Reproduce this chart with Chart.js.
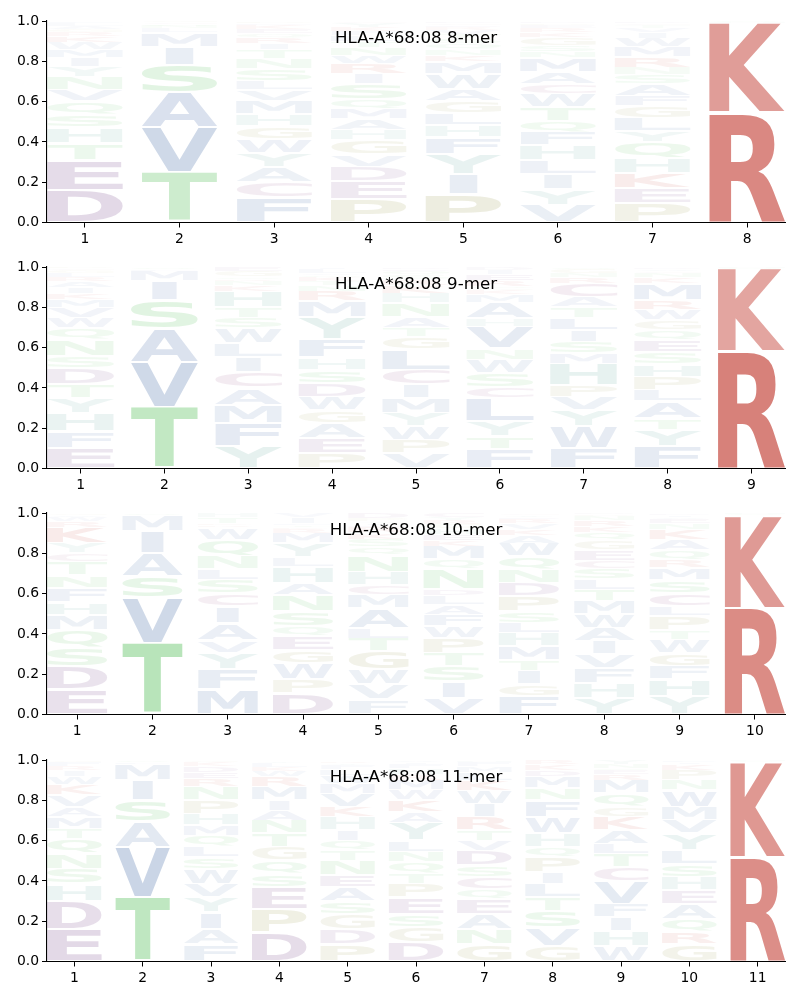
<!DOCTYPE html>
<html>
<head>
<meta charset="utf-8">
<script src="https://cdn.jsdelivr.net/npm/chart.js@4.4.1/dist/chart.umd.min.js"></script>
<style>
  body { margin: 0; background: #fff; }
  canvas { position: absolute; left: 0; }
</style>
</head>
<body>
<canvas id="logo8" width="800" height="246" style="top:0px"></canvas>
<canvas id="logo9" width="800" height="246" style="top:246px"></canvas>
<canvas id="logo10" width="800" height="246" style="top:492px"></canvas>
<canvas id="logo11" width="800" height="246" style="top:739px"></canvas>
<script>
// Datos: cada columna apila letras de abajo hacia arriba
const allele = 'HLA-A*68:08';
const merLengths = [8, 9, 10, 11];
const yTicks = [0, 0.2, 0.4, 0.6, 0.8, 1.0];

const letters8 = ['DETHSQVNYIMWKRGALF', 'TVASIMLNQCG', 'FCAYWGHMVLSNTIRQEKDP', 'PEDVGHAMQSIRWNTLFKYC',
  'PIYFHLGAWMKNQSTVRECD', 'VYILHFQTWCAMNSGKREPD', 'PEKHQYLGFASNRMWIVTCD', 'RKHQ'];
const heights8 = [
  [.16, .15, .085, .078, .063, .065, .058, .066, .05, .045, .04, .035, .03, .02, .015, .015, .015, .01],
  [.25, .225, .17, .137, .09, .07, .02, .012, .01, .008, .008],
  [.124, .076, .074, .071, .07, .063, .06, .065, .055, .045, .06, .05, .045, .03, .03, .02, .02, .02, .01, .01],
  [.115, .088, .075, .06, .07, .05, .055, .05, .05, .075, .05, .05, .04, .04, .03, .03, .02, .02, .02, .01],
  [.138, .1, .1, .085, .06, .06, .06, .06, .075, .06, .03, .03, .03, .025, .02, .02, .015, .01, .01, .01],
  [.088, .075, .075, .07, .075, .065, .057, .067, .066, .05, .06, .07, .03, .03, .04, .025, .02, .015, .01, .01],
  [.096, .074, .075, .075, .08, .055, .065, .06, .05, .06, .045, .035, .05, .05, .045, .03, .02, .015, .01, .01],
  [.545, .445, .005, .005]
];

const letters9 = ['EFHYTDSNQWVMKIARLGCP', 'TVASIMLQ', 'YFMACILWSTHKNRQGE', 'PEAGWDSHFYMRNTKQVLI',
  'VPWYMICLGTANHKRSQED', 'FTYLCSWNVHAMKGQREID', 'FWYVPHMSILTACRNGQ', 'FYTALPHSEQGWRMKNCVD', 'RKQH'];
const heights9 = [
  [.102, .082, .09, .075, .07, .08, .06, .08, .06, .05, .05, .04, .03, .03, .03, .02, .02, .015, .01, .008],
  [.305, .225, .165, .14, .095, .05, .01, .01],
  [.11, .116, .09, .084, .08, .075, .065, .075, .055, .05, .08, .03, .02, .01, .01, .03, .02],
  [.077, .073, .076, .064, .067, .066, .067, .06, .09, .11, .08, .05, .03, .02, .02, .01, .01, .02, .01],
  [.077, .066, .067, .065, .075, .065, .075, .1, .064, .046, .05, .07, .05, .04, .03, .02, .02, .01, .01],
  [.097, .063, .075, .115, .055, .07, .065, .055, .11, .04, .08, .04, .02, .01, .01, .03, .03, .02, .015],
  [.102, .108, .08, .067, .058, .105, .05, .06, .057, .063, .05, .05, .07, .03, .02, .02, .01],
  [.11, .083, .057, .083, .057, .066, .064, .06, .057, .05, .049, .05, .049, .085, .03, .02, .01, .01, .01],
  [.58, .41, .005, .005]
];

const letters10 = ['EDSQMHFNTCYKRWAG', 'TVSAIMQ', 'MFYVAICSLNQWRKTH', 'DPWGEQSNAHLYMRKTFIV', 'FVWGTLAMCHNQSKREIYPD',
  'VISTPWFALDNQMKEHGRYC', 'FGITMHLSPDNQWAKVREYC', 'YHFVIAWMTLSCEGQKRNPD', 'YHFGWTPLCSMRQAKNEVID', 'RKQH'];
const heights10 = [
  [.124, .116, .09, .09, .076, .064, .07, .064, .066, .04, .05, .08, .03, .02, .01, .01],
  [.355, .225, .106, .114, .11, .08, .01],
  [.124, .099, .083, .064, .085, .082, .063, .07, .05, .065, .083, .06, .01, .01, .03, .022],
  [.107, .066, .083, .066, .066, .05, .074, .083, .058, .082, .045, .07, .05, .02, .01, .01, .01, .03, .02],
  [.074, .075, .074, .09, .065, .05, .098, .067, .05, .065, .083, .04, .04, .03, .03, .01, .01, .01, .012, .027],
  [.083, .082, .075, .066, .074, .058, .058, .049, .045, .03, .1, .05, .065, .03, .03, .03, .02, .02, .015, .02],
  [.09, .059, .066, .055, .07, .065, .05, .057, .075, .066, .067, .065, .065, .04, .03, .03, .02, .01, .01, .01],
  [.083, .074, .074, .067, .066, .066, .066, .066, .058, .05, .055, .04, .05, .05, .04, .03, .03, .02, .01, .005],
  [.09, .084, .066, .066, .066, .048, .068, .049, .066, .067, .058, .04, .05, .05, .05, .03, .02, .01, .01, .01],
  [.53, .46, .005, .005]
];

const letters11 = ['EDHSNQTMAVKWIRFG', 'TVASIMLQ', 'FAIYVWSLQMHPNREDKG', 'DPESQGTNAIMRWKLY', 'PDGSAENTQIHKVMWLFYR',
  'DGSEPTQNLYAKWMRHFIV', 'GNAEQCSDVTRIWKLMFH', 'GVSTLIPQHWFNMDKR', 'WHIFVCTLAKGQMRESNY', 'GRQAEHSLYVMWNPKIF', 'RKQH'];
const heights11 = [
  [.16, .14, .085, .075, .075, .075, .05, .058, .049, .06, .05, .04, .03, .02, .02, .01],
  [.32, .248, .125, .107, .1, .08, .01, .01],
  [.086, .075, .083, .076, .065, .075, .058, .05, .058, .05, .058, .066, .067, .04, .03, .03, .02, .01],
  [.145, .115, .11, .065, .065, .068, .067, .065, .05, .05, .066, .05, .03, .02, .02, .01],
  [.086, .074, .076, .064, .069, .058, .073, .05, .05, .05, .067, .05, .066, .05, .04, .03, .02, .01, .01],
  [.095, .075, .066, .084, .065, .05, .06, .05, .055, .09, .05, .06, .05, .05, .03, .03, .02, .01, .01],
  [.086, .074, .076, .074, .05, .06, .057, .073, .05, .05, .067, .066, .066, .05, .04, .03, .02, .01],
  [.078, .092, .082, .068, .065, .058, .075, .05, .067, .083, .083, .058, .058, .03, .03, .02],
  [.078, .075, .067, .066, .114, .068, .067, .05, .065, .068, .05, .066, .066, .03, .02, .01, .02, .02],
  [.086, .059, .065, .076, .066, .068, .065, .065, .085, .066, .066, .083, .05, .05, .03, .01, .01],
  [.518, .472, .005, .005]
];

// Colores por grupo de aminoácido
const groupColors = [
  ['AVILMFW', [44, 87, 156]],
  ['STNQ', [55, 179, 60]],
  ['DE', [91, 31, 113]],
  ['KR', [185, 32, 20]],
  ['HY', [46, 139, 123]],
  ['PG', [132, 132, 41]],
  ['C', [120, 30, 100]]
];

function letterColor(ch, h) {
  const group = groupColors.find(g => g[0].includes(ch));
  const rgb = group ? group[1] : [120, 120, 120];
  const alpha = Math.min(1, 0.015 + 0.95 * h);
  return `rgba(${rgb[0]}, ${rgb[1]}, ${rgb[2]}, ${alpha})`;
}

// Métricas de glifos (tinta real) medidas una vez
const glyphFont = 'bold 200px "DejaVu Sans"';
const glyphCache = {};
function glyphMetrics(ctx, ch) {
  if (!glyphCache[ch]) {
    ctx.save();
    ctx.font = glyphFont;
    ctx.textAlign = 'left';
    ctx.textBaseline = 'alphabetic';
    const m = ctx.measureText(ch);
    glyphCache[ch] = {
      left: m.actualBoundingBoxLeft,
      width: m.actualBoundingBoxLeft + m.actualBoundingBoxRight,
      ascent: m.actualBoundingBoxAscent,
      height: m.actualBoundingBoxAscent + m.actualBoundingBoxDescent
    };
    ctx.restore();
  }
  return glyphCache[ch];
}

function drawGlyph(ctx, ch, x0, x1, y0, y1, color) {
  const m = glyphMetrics(ctx, ch);
  const e = glyphMetrics(ctx, 'E');
  const w = x1 - x0, h = y1 - y0;
  if (h <= 0.2) return;
  // no estirar más que la "E"
  const sx = Math.min(w / m.width, w / e.width);
  const sy = h / m.height;
  const drawnW = m.width * sx;
  ctx.save();
  ctx.translate(x0 + (w - drawnW) / 2, y0);
  ctx.scale(sx, sy);
  ctx.font = glyphFont;
  ctx.textAlign = 'left';
  ctx.textBaseline = 'alphabetic';
  ctx.fillStyle = color;
  ctx.fillText(ch, m.left, m.ascent);
  ctx.restore();
}

const logoPlugin = {
  id: 'logoLetters',
  afterDatasetsDraw(chart) {
    const ctx = chart.ctx;
    const area = chart.chartArea;
    const ds = chart.data.datasets[0];
    const meta = chart.getDatasetMeta(0);
    ctx.save();
    ctx.beginPath();
    ctx.rect(area.left, area.top - 1, area.right - area.left, area.bottom - area.top + 1);
    ctx.clip();
    meta.data.forEach((bar, i) => {
      const p = bar.getProps(['x', 'y', 'base', 'width'], true);
      const top = Math.min(p.y, p.base);
      const bottom = Math.max(p.y, p.base);
      const pad = Math.min(1.2, (bottom - top) * 0.08);
      drawGlyph(ctx, ds.letters[i], p.x - p.width / 2, p.x + p.width / 2,
        top + pad, bottom - pad, letterColor(ds.letters[i], ds.heights[i]));
    });
    ctx.restore();
  }
};

const titlePlugin = {
  id: 'innerTitle',
  afterDraw(chart) {
    const ctx = chart.ctx;
    const area = chart.chartArea;
    ctx.save();
    ctx.font = '16.7px "DejaVu Sans"';
    ctx.fillStyle = '#000';
    ctx.textAlign = 'center';
    ctx.textBaseline = 'alphabetic';
    ctx.fillText(chart.options.plugins.innerTitle.text, (area.left + area.right) / 2, area.top + 22);
    ctx.restore();
  }
};

Chart.defaults.font.family = '"DejaVu Sans"';
Chart.defaults.font.size = 13.9;
Chart.defaults.color = '#000';

function createLogo(canvasId, len, letters, heights) {
  const points = [], chars = [], hs = [];
  letters.forEach((col, i) => {
    let base = 0;
    [...col].forEach((ch, j) => {
      const h = heights[i][j];
      points.push({ x: i + 1, y: [base, base + h] });
      chars.push(ch);
      hs.push(h);
      base += h;
    });
  });
  const positions = letters.map((_, i) => i + 1);

  return new Chart(document.getElementById(canvasId), {
    type: 'bar',
    data: {
      datasets: [{
        data: points,
        letters: chars,
        heights: hs,
        backgroundColor: 'rgba(0,0,0,0)',
        borderWidth: 0,
        barPercentage: 0.8,
        categoryPercentage: 1.0
      }]
    },
    options: {
      responsive: false,
      animation: false,
      layout: { padding: { top: 21, right: 15, left: 0, bottom: 0 } },
      plugins: {
        legend: { display: false },
        tooltip: { enabled: false },
        innerTitle: { text: `${allele} ${len}-mer` }
      },
      scales: {
        x: {
          type: 'linear',
          min: 0.6,
          max: len + 0.4,
          offset: false,
          grid: { display: true, offset: false, drawOnChartArea: false, drawTicks: true, tickLength: 5, tickColor: '#000' },
          border: { display: true, color: '#000', width: 1.1 },
          ticks: { padding: 4 },
          afterBuildTicks: scale => { scale.ticks = positions.map(v => ({ value: v })); },
          afterFit: scale => { scale.height = 23.5; }
        },
        y: {
          type: 'linear',
          min: 0,
          max: 1,
          grid: { display: true, drawOnChartArea: false, drawTicks: true, tickLength: 5, tickColor: '#000' },
          border: { display: true, color: '#000', width: 1.1 },
          ticks: { padding: 3, callback: v => v.toFixed(1) },
          afterBuildTicks: scale => { scale.ticks = yTicks.map(v => ({ value: v })); },
          afterFit: scale => { scale.width = 47; }
        }
      }
    },
    plugins: [logoPlugin, titlePlugin]
  });
}

createLogo('logo8', merLengths[0], letters8, heights8);
createLogo('logo9', merLengths[1], letters9, heights9);
createLogo('logo10', merLengths[2], letters10, heights10);
createLogo('logo11', merLengths[3], letters11, heights11);
</script>
</body>
</html>
